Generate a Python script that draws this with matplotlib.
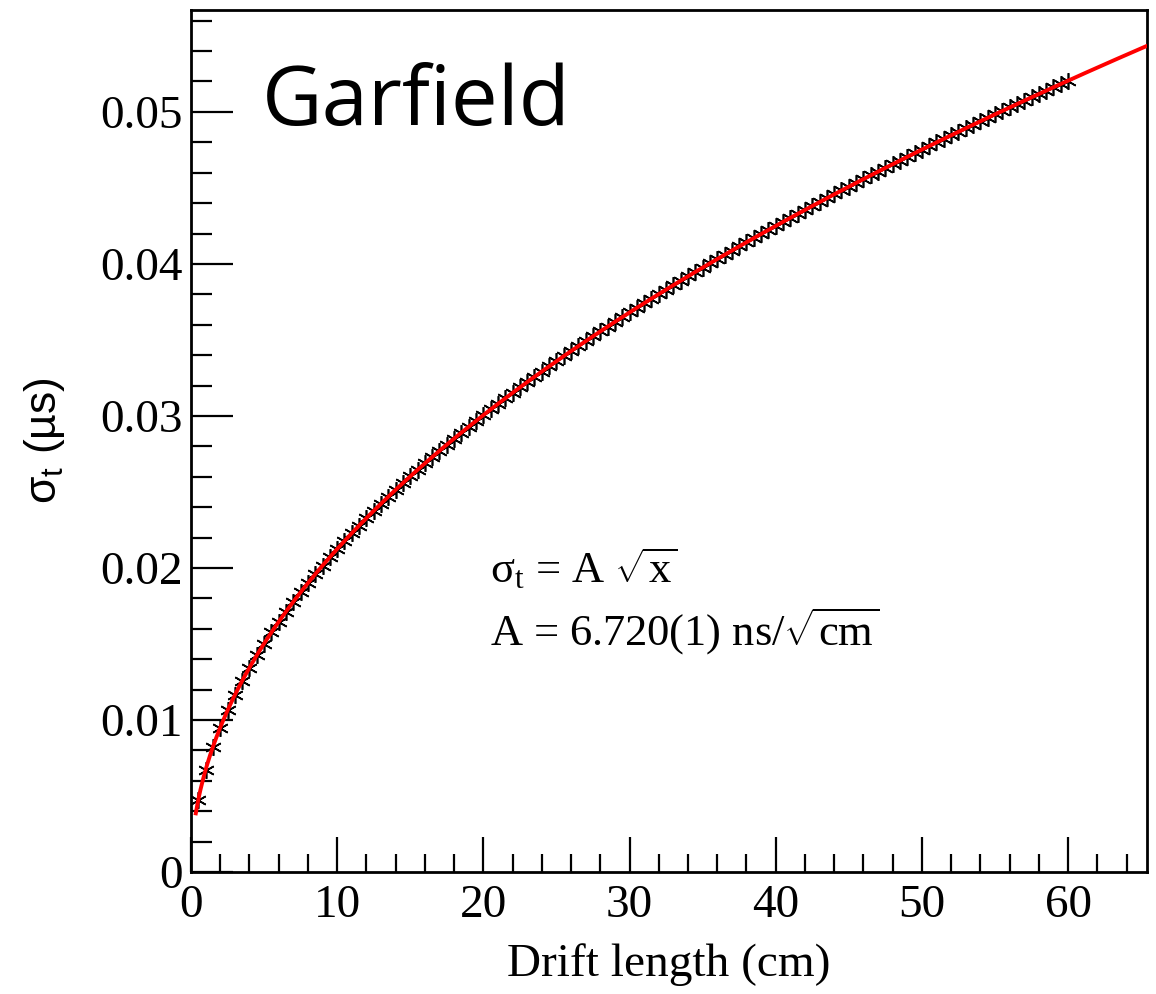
import matplotlib
matplotlib.use("Agg")
import matplotlib.pyplot as plt
import numpy as np

plt.rcParams['mathtext.fontset'] = 'custom'
plt.rcParams['mathtext.rm'] = 'Liberation Serif'
plt.rcParams['mathtext.it'] = 'Liberation Serif:italic'

drift_cm = [0.5, 1.0, 1.5, 2.0, 2.5, 3.0, 3.5, 4.0, 4.5, 5.0,
            5.5, 6.0, 6.5, 7.0, 7.5, 8.0, 8.5, 9.0, 9.5, 10.0,
            10.5, 11.0, 11.5, 12.0, 12.5, 13.0, 13.5, 14.0, 14.5, 15.0,
            15.5, 16.0, 16.5, 17.0, 17.5, 18.0, 18.5, 19.0, 19.5, 20.0,
            20.5, 21.0, 21.5, 22.0, 22.5, 23.0, 23.5, 24.0, 24.5, 25.0,
            25.5, 26.0, 26.5, 27.0, 27.5, 28.0, 28.5, 29.0, 29.5, 30.0,
            30.5, 31.0, 31.5, 32.0, 32.5, 33.0, 33.5, 34.0, 34.5, 35.0,
            35.5, 36.0, 36.5, 37.0, 37.5, 38.0, 38.5, 39.0, 39.5, 40.0,
            40.5, 41.0, 41.5, 42.0, 42.5, 43.0, 43.5, 44.0, 44.5, 45.0,
            45.5, 46.0, 46.5, 47.0, 47.5, 48.0, 48.5, 49.0, 49.5, 50.0,
            50.5, 51.0, 51.5, 52.0, 52.5, 53.0, 53.5, 54.0, 54.5, 55.0,
            55.5, 56.0, 56.5, 57.0, 57.5, 58.0, 58.5, 59.0, 59.5, 60.0]
sigma_us = [0.00475, 0.00672, 0.00823, 0.00950, 0.01063, 0.01164, 0.01257, 0.01344, 0.01426, 0.01503,
            0.01576, 0.01646, 0.01713, 0.01778, 0.01840, 0.01901, 0.01959, 0.02016, 0.02071, 0.02125,
            0.02178, 0.02229, 0.02279, 0.02328, 0.02376, 0.02423, 0.02469, 0.02514, 0.02559, 0.02603,
            0.02646, 0.02688, 0.02730, 0.02771, 0.02811, 0.02851, 0.02890, 0.02929, 0.02968, 0.03005,
            0.03043, 0.03080, 0.03116, 0.03152, 0.03188, 0.03223, 0.03258, 0.03292, 0.03326, 0.03360,
            0.03393, 0.03427, 0.03459, 0.03492, 0.03524, 0.03556, 0.03588, 0.03619, 0.03650, 0.03681,
            0.03711, 0.03742, 0.03772, 0.03801, 0.03831, 0.03860, 0.03890, 0.03918, 0.03947, 0.03976,
            0.04004, 0.04032, 0.04060, 0.04088, 0.04115, 0.04143, 0.04170, 0.04197, 0.04224, 0.04250,
            0.04277, 0.04303, 0.04329, 0.04355, 0.04381, 0.04407, 0.04432, 0.04458, 0.04483, 0.04508,
            0.04533, 0.04558, 0.04582, 0.04607, 0.04631, 0.04656, 0.04680, 0.04704, 0.04728, 0.04752,
            0.04776, 0.04799, 0.04823, 0.04846, 0.04869, 0.04892, 0.04915, 0.04938, 0.04961, 0.04984,
            0.05006, 0.05029, 0.05051, 0.05074, 0.05096, 0.05118, 0.05140, 0.05162, 0.05184, 0.05205]

# fit result: sigma_t = A sqrt(x), A in us/sqrt(cm)
A_fit = 0.006720
fit_range = (0.33, 65.4)

fig = plt.figure(figsize=(11.56, 9.94), dpi=100)
ax = fig.add_axes([0.1652, 0.1227, 0.9922 - 0.1652, 0.9899 - 0.1227])

xf = np.linspace(fit_range[0], fit_range[1], 600)
ax.plot(drift_cm, sigma_us, linestyle='none', marker=(6, 2, 0), markersize=12,
        markeredgewidth=1.2, color='black', zorder=2)
ax.plot(xf, A_fit * np.sqrt(xf), color='#ff0000', linewidth=2.8, zorder=3)

ax.set_xlim(0, 65.4)
ax.set_ylim(0, 0.0567)
ax.set_xticks(np.arange(0, 61, 10))
ax.set_xticks(np.arange(0, 65.4, 2), minor=True)
ax.set_yticks([0, 0.01, 0.02, 0.03, 0.04, 0.05])
ax.set_yticklabels(['0', '0.01', '0.02', '0.03', '0.04', '0.05'])
ax.set_yticks(np.arange(0, 0.0567, 0.002), minor=True)

ax.tick_params(axis='both', which='both', direction='in', top=False, right=False,
               width=1.6, color='black')
ax.tick_params(axis='x', which='major', length=25, pad=9)
ax.tick_params(axis='x', which='minor', length=13)
ax.tick_params(axis='y', which='major', length=30, pad=6)
ax.tick_params(axis='y', which='minor', length=15)
for lab in ax.get_xticklabels() + ax.get_yticklabels():
    lab.set_fontfamily('Liberation Serif')
    lab.set_fontsize(34)
for sp in ax.spines.values():
    sp.set_linewidth(2)

ax.set_xlabel('Drift length (cm)', fontfamily='Liberation Serif', fontsize=34, labelpad=12)
ax.set_ylabel(r'$\mathregular{σ_t}$ (µs)', fontfamily='Liberation Sans', fontsize=32, labelpad=24)

ax.text(0.074, 0.8666, 'Garfield', transform=ax.transAxes, fontfamily='Open Sans',
        fontsize=60, va='baseline', ha='left')
ax.text(0.313, 0.3355, r'$\mathregular{σ_t}$ = A $\mathregular{\sqrt{x}}$', transform=ax.transAxes,
        fontfamily='Liberation Serif', fontsize=32, va='baseline', ha='left')
ax.text(0.313, 0.2633, r'A = 6.720(1) ns/$\mathregular{\sqrt{cm}}$', transform=ax.transAxes,
        fontfamily='Liberation Serif', fontsize=32, va='baseline', ha='left')

fig.savefig('out.png', dpi=100)
